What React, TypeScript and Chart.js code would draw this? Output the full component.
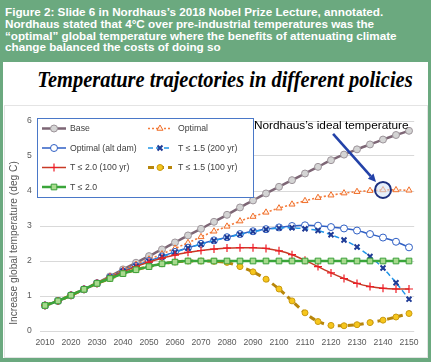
import React, { useEffect, useRef } from "react";
import { Chart, registerables } from "chart.js";
import { drawPoint } from "chart.js/helpers";

Chart.register(...registerables);

// ---------- data ----------
const years = [
  2010, 2015, 2020, 2025, 2030, 2035, 2040, 2045, 2050, 2055, 2060, 2065, 2070, 2075, 2080,
  2085, 2090, 2095, 2100, 2105, 2110, 2115, 2120, 2125, 2130, 2135, 2140, 2145, 2150,
];
const base = [
  0.73, 0.86, 1.02, 1.19, 1.37, 1.56, 1.76, 1.95, 2.14, 2.33, 2.53, 2.73, 2.92, 3.12, 3.32,
  3.53, 3.73, 3.93, 4.12, 4.31, 4.5, 4.69, 4.88, 5.04, 5.19, 5.33, 5.47, 5.6, 5.72,
];
const optimal = [
  0.73, 0.86, 1.02, 1.19, 1.37, 1.55, 1.74, 1.9, 2.05, 2.2, 2.36, 2.52, 2.69, 2.85, 2.99,
  3.14, 3.27, 3.39, 3.51, 3.62, 3.72, 3.81, 3.88, 3.94, 3.98, 4.01, 4.03, 4.03, 4.02,
];
const optimalAltDam = [
  0.73, 0.86, 1.02, 1.19, 1.36, 1.53, 1.7, 1.86, 2.0, 2.13, 2.26, 2.38, 2.49, 2.59, 2.68,
  2.77, 2.85, 2.91, 2.96, 3.0, 3.02, 3.01, 2.97, 2.93, 2.87, 2.77, 2.67, 2.55, 2.39,
];
const t15y200 = [
  0.73, 0.86, 1.02, 1.19, 1.36, 1.53, 1.7, 1.85, 1.99, 2.12, 2.25, 2.37, 2.48, 2.58, 2.67,
  2.76, 2.84, 2.9, 2.94, 2.95, 2.92, 2.87, 2.75, 2.6, 2.4, 2.13, 1.8, 1.38, 0.91,
];
const t20y100 = [
  0.73, 0.86, 1.02, 1.19, 1.36, 1.53, 1.69, 1.84, 1.97, 2.08, 2.17, 2.25, 2.3, 2.34, 2.37,
  2.38, 2.38, 2.36, 2.29, 2.18, 2.02, 1.84, 1.66, 1.5, 1.36, 1.27, 1.22, 1.2, 1.2,
];
const t15y100 = [
  0.73, 0.86, 1.02, 1.19, 1.36, 1.5, 1.64, 1.75, 1.84, 1.92, 1.97, 2.0, 2.0, 1.99, 1.96,
  1.84, 1.69, 1.48, 1.2, 0.86, 0.52, 0.27, 0.16, 0.15, 0.18, 0.24, 0.31, 0.4, 0.5,
];
const t20 = [
  0.73, 0.86, 1.02, 1.19, 1.36, 1.5, 1.64, 1.75, 1.84, 1.92, 1.97, 2.0, 2.0, 2.0, 2.0,
  2.0, 2.0, 2.0, 2.0, 2.0, 2.0, 2.0, 2.0, 2.0, 2.0, 2.0, 2.0, 2.0, 2.0,
];
const seriesNames = [
  "Base",
  "Optimal",
  "Optimal (alt dam)",
  "T ≤ 1.5 (200 yr)",
  "T ≤ 2.0 (100 yr)",
  "T ≤ 1.5 (100 yr)",
  "T ≤ 2.0",
];
const xTickLabels = [2010, 2020, 2030, 2040, 2050, 2060, 2070, 2080, 2090, 2100, 2110, 2120, 2130, 2140, 2150];
const yTickLabels = [0, 1, 2, 3, 4, 5, 6];
const headerLines = [
  "Figure 2: Slide 6 in Nordhaus’s 2018 Nobel Prize Lecture, annotated.",
  "Nordhaus stated that 4°C over pre-industrial temperatures was the",
  "“optimal” global temperature where the benefits of attenuating climate",
  "change balanced the costs of doing so",
];
const chartTitle = "Temperature trajectories in different policies";
const yAxisTitle = "Increase global temperature (deg C)";
const annotationText = "Nordhaus’s ideal temperature";
const idealYear = 2140;
const arrowStart = { x: 2120.8, y: 5.63 };

const CANVAS_TOP = 100;
const W = 431;
const H = 362;

export default function App() {
  const ref = useRef<HTMLCanvasElement>(null);

  useEffect(() => {
    document.body.style.margin = "0";
    const canvas = ref.current!;
    const pts = (arr: number[]) => years.map((y, i) => ({ x: y, y: arr[i] }));

    const styles: any[] = [
      { data: base, borderColor: "#7d6675", borderWidth: 2.5, pointStyle: "circle", pointRadius: 3.5, pointBackgroundColor: "#d4d4d4", pointBorderColor: "#9d949a", pointBorderWidth: 1, borderDash: [] },
      { data: optimal, borderColor: "#f47b3b", borderWidth: 1.6, pointStyle: "triangle", pointRadius: 3.5, pointBackgroundColor: "#fff3ea", pointBorderColor: "#f0702c", pointBorderWidth: 1, borderDash: [2, 2] },
      { data: optimalAltDam, borderColor: "#2f5fc4", borderWidth: 1.5, pointStyle: "circle", pointRadius: 3.5, pointBackgroundColor: "#ffffff", pointBorderColor: "#2f5fc4", pointBorderWidth: 1, borderDash: [] },
      { data: t15y200, borderColor: "#2095e8", borderWidth: 1.5, pointStyle: "crossRot", pointRadius: 3.5, pointBackgroundColor: "#1f3b96", pointBorderColor: "#1f3b96", pointBorderWidth: 2, borderDash: [5, 3] },
      { data: t20y100, borderColor: "#c83a26", borderWidth: 1.5, pointStyle: "cross", pointRadius: 4, pointBackgroundColor: "#ee1c25", pointBorderColor: "#ee1c25", pointBorderWidth: 1.2, borderDash: [] },
      { data: t15y100, borderColor: "#b8860b", borderWidth: 3, pointStyle: "circle", pointRadius: 3, pointBackgroundColor: "#f6c61c", pointBorderColor: "#c99a12", pointBorderWidth: 1, borderDash: [6, 4] },
      { data: t20, borderColor: "#3aa53a", borderWidth: 2.5, pointStyle: "rect", pointRadius: 4, pointBackgroundColor: "#a8da8e", pointBorderColor: "#3aa03a", pointBorderWidth: 1, borderDash: [] },
    ];

    const datasets = styles.map((s, i) => ({
      label: seriesNames[i],
      data: pts(s.data),
      borderColor: s.borderColor,
      borderWidth: s.borderWidth,
      borderDash: s.borderDash,
      pointStyle: s.pointStyle,
      pointRadius: s.pointRadius,
      pointBackgroundColor: s.pointBackgroundColor,
      pointBorderColor: s.pointBorderColor,
      pointBorderWidth: s.pointBorderWidth,
      tension: 0.3,
      fill: false,
      order: styles.length - 1 - i,
    }));

    const legendPlugin = {
      id: "boxLegend",
      afterDatasetsDraw(chart: any) {
        const ctx = chart.ctx as CanvasRenderingContext2D;
        const bx = 37, by = 118 - CANVAS_TOP, bw = 216, bh = 79;
        ctx.save();
        ctx.fillStyle = "#ffffff";
        ctx.fillRect(bx, by, bw, bh);
        ctx.strokeStyle = "#4a78c8";
        ctx.lineWidth = 1;
        ctx.strokeRect(bx + 0.5, by + 0.5, bw, bh);
        const rows = [128.5, 148, 167.5, 187].map((v) => v - CANVAS_TOP);
        const cols = [
          { x0: 42, x1: 66, tx: 70 },
          { x0: 148, x1: 172, tx: 178 },
        ];
        ctx.font = "8.7px 'Liberation Sans', Arial, sans-serif";
        ctx.textBaseline = "middle";
        styles.forEach((s, i) => {
          const r = Math.floor(i / 2), c = i % 2;
          const y = rows[r];
          const col = cols[c];
          ctx.save();
          ctx.strokeStyle = s.borderColor;
          ctx.lineWidth = s.borderWidth;
          ctx.setLineDash(s.borderDash);
          ctx.beginPath();
          ctx.moveTo(col.x0, y);
          ctx.lineTo(col.x1, y);
          ctx.stroke();
          ctx.setLineDash([]);
          ctx.fillStyle = s.pointBackgroundColor;
          ctx.strokeStyle = s.pointBorderColor;
          ctx.lineWidth = s.pointBorderWidth;
          drawPoint(ctx, { pointStyle: s.pointStyle, radius: s.pointRadius, rotation: 0, borderWidth: s.pointBorderWidth } as any, (col.x0 + col.x1) / 2, y);
          ctx.restore();
          ctx.fillStyle = "#404040";
          ctx.fillText(seriesNames[i], col.tx, y + 0.5);
        });
        ctx.restore();
      },
      afterDraw(chart: any) {
        const ctx = chart.ctx as CanvasRenderingContext2D;
        const xs = chart.scales.x, ys = chart.scales.y;
        ctx.save();
        // y axis title
        ctx.translate(14, 243 - CANVAS_TOP);
        ctx.rotate(-Math.PI / 2);
        ctx.font = "10.2px 'Liberation Sans', Arial, sans-serif";
        ctx.fillStyle = "#595959";
        ctx.textAlign = "center";
        ctx.textBaseline = "middle";
        ctx.fillText(yAxisTitle, 0, 0);
        ctx.restore();

        // annotation circle
        const idx = years.indexOf(idealYear);
        const cx = xs.getPixelForValue(idealYear);
        const cy = ys.getPixelForValue(optimal[idx]);
        ctx.save();
        ctx.beginPath();
        ctx.arc(cx, cy, 8, 0, Math.PI * 2);
        ctx.fillStyle = "rgba(210,225,245,0.55)";
        ctx.fill();
        ctx.lineWidth = 2;
        ctx.strokeStyle = "#1c2f7e";
        ctx.stroke();

        // arrow
        const sx = xs.getPixelForValue(arrowStart.x);
        const sy = ys.getPixelForValue(arrowStart.y);
        const ang = Math.atan2(cy - sy, cx - sx);
        const tipX = cx - Math.cos(ang) * 10.5;
        const tipY = cy - Math.sin(ang) * 10.5;
        const headL = 8, headW = 3.8;
        const bxp = tipX - Math.cos(ang) * headL;
        const byp = tipY - Math.sin(ang) * headL;
        ctx.strokeStyle = "#2342a8";
        ctx.lineWidth = 2.6;
        ctx.beginPath();
        ctx.moveTo(sx, sy);
        ctx.lineTo(bxp, byp);
        ctx.stroke();
        ctx.fillStyle = "#2342a8";
        ctx.beginPath();
        ctx.moveTo(tipX, tipY);
        ctx.lineTo(bxp + Math.sin(ang) * headW, byp - Math.cos(ang) * headW);
        ctx.lineTo(bxp - Math.sin(ang) * headW, byp + Math.cos(ang) * headW);
        ctx.closePath();
        ctx.fill();

        // annotation text
        ctx.font = "11.8px 'Liberation Sans', Arial, sans-serif";
        ctx.fillStyle = "#000000";
        ctx.textAlign = "left";
        ctx.textBaseline = "alphabetic";
        ctx.fillText(annotationText, 254, 129 - CANVAS_TOP);
        ctx.restore();
      },
    };

    const chart = new Chart(canvas, {
      type: "line",
      data: { datasets },
      options: {
        responsive: false,
        animation: false,
        devicePixelRatio: 1,
        layout: { padding: { top: 21, right: 16.8, left: 0, bottom: 0 } },
        plugins: { legend: { display: false }, tooltip: { enabled: false }, title: { display: false } },
        scales: {
          x: {
            type: "linear",
            min: 2008,
            max: 2152,
            afterBuildTicks: (s: any) => {
              s.ticks = xTickLabels.map((v) => ({ value: v }));
            },
            afterFit: (s: any) => {
              s.height = 31;
            },
            grid: { display: false, drawTicks: false },
            border: { display: false },
            ticks: {
              padding: 6,
              color: "#595959",
              font: { family: "'Liberation Sans', Arial, sans-serif", size: 8.6 },
              maxRotation: 0,
              autoSkip: false,
              callback: (v: any) => String(v),
            },
          },
          y: {
            min: 0,
            max: 6,
            afterBuildTicks: (s: any) => {
              s.ticks = yTickLabels.map((v) => ({ value: v }));
            },
            afterFit: (s: any) => {
              s.width = 39.8;
            },
            grid: { color: "#d9d9d9", lineWidth: 1, drawTicks: false },
            border: { display: false },
            ticks: {
              padding: 8,
              color: "#595959",
              font: { family: "'Liberation Sans', Arial, sans-serif", size: 8.6 },
              callback: (v: any) => String(v),
            },
          },
        },
      },
      plugins: [legendPlugin],
    } as any);
    return () => chart.destroy();
  }, []);

  return (
    <div style={{ position: "relative", width: W, height: H, background: "#6ba97f", overflow: "hidden" }}>
      <div
        style={{
          position: "absolute",
          left: 5,
          top: 6,
          color: "#ffffff",
          fontFamily: "'Liberation Sans', Arial, sans-serif",
          fontWeight: "bold",
          fontSize: "11.7px",
          lineHeight: "11.8px",
          whiteSpace: "nowrap",
        }}
      >
        {headerLines.map((l, i) => (
          <div key={i}>{l}</div>
        ))}
      </div>
      <div style={{ position: "absolute", left: 3, top: 62, width: 425, height: 296, background: "#ffffff" }} />
      <div
        style={{
          position: "absolute",
          left: 4,
          top: 105,
          width: 422,
          height: 251,
          border: "1px solid #e4e4e4",
        }}
      />
      <div
        style={{
          position: "absolute",
          left: 0,
          top: 68,
          width: 450,
          textAlign: "center",
          fontFamily: "'Liberation Serif', 'Times New Roman', serif",
          fontStyle: "italic",
          fontWeight: "bold",
          fontSize: "23px",
          lineHeight: "23px",
          color: "#000000",
          whiteSpace: "nowrap",
          transform: "scaleX(0.89)",
          transformOrigin: "225px 50%",
        }}
      >
        {chartTitle}
      </div>
      <canvas
        ref={ref}
        width={W}
        height={H - CANVAS_TOP}
        style={{ position: "absolute", left: 0, top: CANVAS_TOP, width: W, height: H - CANVAS_TOP }}
      />
    </div>
  );
}
